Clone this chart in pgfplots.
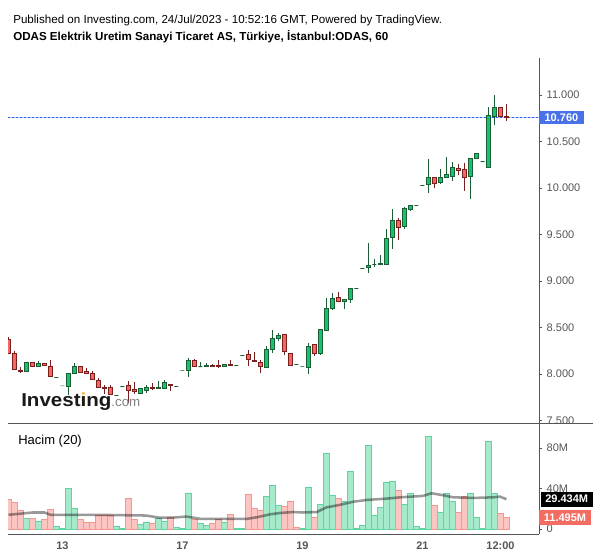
\documentclass[border=0pt]{standalone}
\usepackage{fontspec}
\setmainfont{Liberation Sans}
\usepackage{pgfplots}
\pgfplotsset{compat=1.18}
\usepackage{pgfplotstable}
\definecolor{upfill}{RGB}{22,194,110}
\definecolor{upline}{RGB}{27,94,54}
\definecolor{dnfill}{RGB}{244,104,94}
\definecolor{dnline}{RGB}{122,30,30}
\definecolor{vup}{RGB}{166,234,204}
\definecolor{vupl}{RGB}{96,212,160}
\definecolor{vdn}{RGB}{252,197,194}
\definecolor{vdnl}{RGB}{244,150,145}
\definecolor{axgray}{RGB}{85,85,85}
\definecolor{lblblue}{RGB}{74,114,232}
\definecolor{lblred}{RGB}{242,108,98}
\definecolor{dotblue}{RGB}{41,98,255}
\definecolor{logoorange}{RGB}{245,160,30}
\pgfdeclareplotmark{nothing}{}

\pgfplotstableread{
k o h l c
-6 8.025 8.13 8.02 8.126
-4 8.08 8.143 8.08 8.115
-1 7.964 7.964 7.964 7.964
0 7.871 7.871 7.871 7.871
1 7.864 8.01 7.774 8.007
2 8.007 8.12 8.0 8.086
9 7.77 7.77 7.77 7.77
10 7.864 7.864 7.864 7.864
13 7.792 7.845 7.79 7.839
14 7.825 7.88 7.80 7.86
16 7.846 7.92 7.846 7.857
17 7.846 7.935 7.846 7.906
19 7.867 7.867 7.867 7.867
20 8.043 8.043 8.043 8.043
21 8.036 8.17 7.97 8.14
23 8.08 8.13 8.07 8.08
24 8.08 8.12 8.08 8.093
27 8.08 8.107 8.08 8.107
29 8.093 8.093 8.093 8.093
30 8.2 8.2 8.2 8.2
34 8.07 8.30 8.07 8.266
35 8.266 8.47 8.23 8.384
36 8.38 8.44 8.35 8.41
39 8.104 8.104 8.104 8.104
40 8.086 8.086 8.086 8.086
41 8.07 8.337 8.0 8.30
43 8.222 8.48 8.20 8.48
44 8.473 8.814 8.473 8.70
45 8.70 8.867 8.69 8.814
47 8.778 8.80 8.70 8.80
48 8.80 8.92 8.76 8.92
49 8.921 8.921 8.921 8.921
50 9.137 9.137 9.137 9.137
51 9.147 9.405 9.09 9.17
52 9.18 9.24 9.15 9.18
53 9.175 9.28 9.17 9.19
54 9.18 9.56 9.18 9.46
55 9.466 9.774 9.344 9.653
57 9.585 9.80 9.56 9.78
58 9.767 9.814 9.75 9.814
59 9.814 9.814 9.814 9.814
60 10.029 10.029 10.029 10.029
61 10.036 10.312 9.95 10.115
63 10.058 10.2 10.04 10.115
64 10.115 10.33 10.115 10.147
65 10.12 10.276 10.08 10.22
68 10.12 10.32 9.88 10.32
69 10.32 10.37 10.32 10.366
70 10.283 10.283 10.283 10.283
71 10.222 10.87 10.222 10.785
72 10.774 11.0 10.68 10.868
}\upcandles

\pgfplotstableread{
k o h l c
-9 8.37 8.40 8.21 8.22
-8 8.22 8.25 8.05 8.05
-7 8.04 8.08 8.015 8.025
-5 8.126 8.13 8.08 8.08
-3 8.115 8.12 8.09 8.09
-2 8.086 8.15 7.97 7.97
3 8.086 8.09 8.015 8.015
4 8.025 8.06 8.007 8.007
5 8.007 8.03 7.943 7.943
6 7.935 7.96 7.857 7.857
7 7.857 7.88 7.785 7.843
8 7.857 7.88 7.777 7.777
11 7.871 7.925 7.69 7.82
12 7.828 7.91 7.785 7.81
15 7.857 7.90 7.83 7.843
18 7.89 7.89 7.82 7.875
22 8.15 8.16 8.08 8.08
25 8.093 8.11 8.08 8.08
26 8.093 8.15 8.06 8.08
28 8.107 8.15 8.093 8.093
31 8.21 8.258 8.09 8.158
32 8.15 8.24 8.13 8.13
33 8.126 8.15 8.015 8.08
37 8.42 8.43 8.20 8.24
38 8.222 8.23 8.09 8.09
42 8.312 8.32 8.19 8.222
46 8.825 8.88 8.77 8.778
56 9.653 9.674 9.44 9.578
62 10.115 10.12 10.0 10.05
66 10.21 10.26 10.14 10.186
67 10.2 10.265 9.97 10.11
73 10.868 10.87 10.76 10.774
74 10.772 10.9 10.72 10.76
}\dncandles

\pgfplotstableread{
k v
-6 10.7
-4 8
-1 3
0 0.7
1 40
2 20.5
9 3
10 0.7
13 4.6
14 7
16 10
17 8
19 1.7
20 0.7
21 35.6
23 6
24 3.6
27 7
29 1
30 0.3
34 32.3
35 43.2
36 23.4
40 0.7
41 41
43 24.7
44 75
45 33.3
47 27.7
48 57
49 1
50 3.6
51 82.8
52 13.5
53 21.4
54 46.2
55 47.2
57 24.7
58 35.3
59 2.6
60 0.3
61 91.7
63 16.8
64 35.3
65 27.7
68 35.3
69 11.5
70 0.3
71 86.8
72 35.3
}\volup

\pgfplotstableread{
k v
-9 29
-8 26
-7 18
-5 10.7
-3 9
-2 19
3 9.6
4 7
5 7
6 13.5
7 13.5
8 13.5
11 30.7
12 9
15 6
18 11
22 9
25 6
26 9.2
28 14.5
31 34.6
32 20.8
33 18.5
37 22.8
38 27.7
39 2
42 11.5
46 30.4
56 38.3
62 23.4
66 16.8
67 32.3
73 15.5
74 11.495
}\voldn

\pgfplotsset{
  candles/.style 2 args={
    only marks, scatter, mark=nothing,
    point meta=y,
    visualization depends on={69.745*(\thisrow{o}-\thisrow{c}) \as \cbody},
    visualization depends on={69.745*(\thisrow{h}-\thisrow{c}) \as \chigh},
    visualization depends on={69.745*(\thisrow{l}-\thisrow{c}) \as \clow},
    scatter/@pre marker code/.code={%
      \draw[#2,line width=0.75pt] (0pt,\clow pt) -- (0pt,\chigh pt);
      \draw[#2,fill=#1,line width=0.75pt] (-1.5pt,0pt) rectangle (1.5pt,\cbody pt);
    },
    scatter/@post marker code/.code={},
  },
  paneax/.style={
    scale only axis, width=398.25pt,
    xmin=-9.083, xmax=79.417,
    clip mode=individual, clip marker paths=true,
    axis line style={draw=axgray, line width=0.75pt},
    tick align=outside, major tick length=2.25pt,
    ytick style={draw=axgray, line width=0.75pt},
    yticklabel style={font=\fontsize{8.25}{10}\selectfont, text=axgray},
    /pgf/number format/assume math mode=true,
  },
}

\begin{document}
\begin{tikzpicture}
\path[use as bounding box] (0pt,0pt) rectangle (450pt,-418.5pt);

% price pane
\begin{axis}[paneax, at={(6pt,-43.5pt)}, anchor=north west,
  height=273.75pt, ymin=7.473, ymax=11.398,
  axis x line=none, axis y line*=right,
  ytick={7.5,8,8.5,9,9.5,10,10.5,11},
  yticklabel style={/pgf/number format/.cd, fixed, fixed zerofill, precision=3},
]
\draw[color=dotblue!35!white, line width=0.75pt] (axis cs:-9.083,10.76) -- (axis cs:79.417,10.76);
\draw[color=dotblue, dash pattern=on 1.5pt off 1.5pt, line width=0.75pt] (axis cs:-9.083,10.76) -- (axis cs:79.417,10.76);
\addplot[candles={upfill}{upline}] table[x=k,y=c] {\upcandles};
\addplot[candles={dnfill}{dnline}] table[x=k,y=c] {\dncandles};
\node[fill=lblblue, text=white, font=\bfseries\fontsize{8.25}{10}\selectfont, anchor=west, inner xsep=4pt, inner ysep=0pt, minimum height=10pt] at (axis cs:79.417,10.76) {10.760};
\end{axis}

% volume pane
\begin{axis}[paneax, at={(6pt,-317.25pt)}, anchor=north west,
  height=83.25pt, ymin=-4.938, ymax=104.69,
  axis x line*=bottom, axis y line*=right,
  ytick={0,40,80}, yticklabels={0,40M,80M},
  xtick={0,20,40,60,73}, xticklabels={13,17,19,21,12:00},
  xtick style={draw=none},
  xticklabel style={font=\bfseries\fontsize{8.25}{10}\selectfont, text=axgray, anchor=center, yshift=-6.2pt},
]
\addplot[ybar, bar width=4pt, bar shift=0pt, fill=vup, draw=vupl, line width=0.6pt] table[x=k,y=v] {\volup};
\addplot[ybar, bar width=4pt, bar shift=0pt, fill=vdn, draw=vdnl, line width=0.6pt] table[x=k,y=v] {\voldn};
\addplot[black, opacity=0.4, line width=1.9pt] coordinates {
(-9,14) (-5,16.3) (-3,16.3) (-2,14) (6,14) (14,13.3) (16,11.3) (18.5,11.3) (20.7,12.3) (23,10) (30.7,10) (32.4,11.6) (34.6,14.5) (36.2,15.8) (38.5,16.8) (40,16.3) (42.4,16.8) (44,21.4) (46.2,23.8) (48.5,27) (50.7,28.7) (54,30) (56.3,31.3) (60.1,32.7) (61.5,35.3) (63.5,33.3) (65.1,31.3) (68.5,30.7) (71.8,31.3) (72.9,32) (74,29.4)};
\node[fill=black, text=white, font=\bfseries\fontsize{8.25}{10}\selectfont, anchor=west, inner xsep=3.5pt, inner ysep=0pt, minimum height=11.25pt, xshift=1pt] at (axis cs:79.417,29.434) {29.434M};
\node[fill=lblred, text=white, font=\bfseries\fontsize{8.25}{10}\selectfont, anchor=west, inner xsep=3.5pt, inner ysep=0pt, minimum height=11.5pt] at (axis cs:79.417,11.495) {11.495M};
\end{axis}

\fill[white] (405.4pt,-317.6pt) rectangle (450pt,-321pt);
\draw[axgray, line width=0.75pt] (6pt,-317.25pt) -- (444.75pt,-317.25pt);

% titles
\node[anchor=base west, inner sep=0pt, font=\fontsize{8.7}{10}\selectfont] at (9.75pt,-17.5pt) {Published on Investing.com, 24/Jul/2023 - 10:52:16 GMT, Powered by TradingView.};
\node[anchor=base west, inner sep=0pt, font=\bfseries\fontsize{8.7}{10}\selectfont] at (9.75pt,-30.5pt) {ODAS Elektrik Uretim Sanayi Ticaret AS, Türkiye, İstanbul:ODAS, 60};

% watermark
\node[anchor=base west, inner sep=0pt] at (15.75pt,-304.5pt) {\scalebox{1.1}[1]{\fontsize{14}{14}\selectfont\bfseries\color{black!90}Invest\rlap{\color{logoorange}i}ıng}{\fontsize{10}{10}\selectfont\color{gray}.com}};

\node[anchor=base west, inner sep=0pt, font=\fontsize{9.75}{12}\selectfont] at (13.5pt,-333pt) {Hacim (20)};
\end{tikzpicture}
\end{document}
